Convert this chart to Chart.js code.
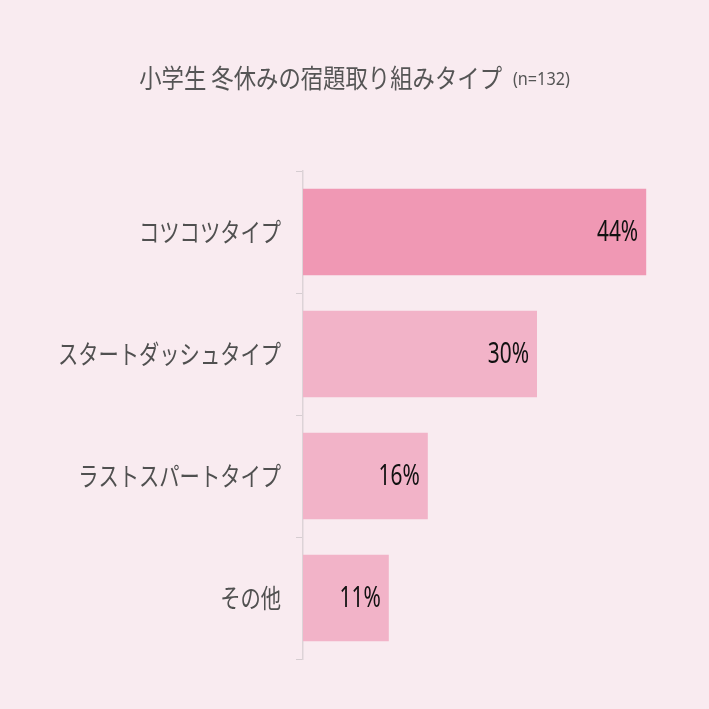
<!DOCTYPE html>
<html>
<head>
<meta charset="utf-8">
<script src="https://cdn.jsdelivr.net/npm/chart.js@4"></script>
<style>
  html, body { margin: 0; padding: 0; background: #f9ebf0; }
  #wrap { width: 709px; height: 709px; }
</style>
</head>
<body>
<div id="wrap"><canvas id="typeChart"></canvas></div>
<script>
const categories = ["コツコツタイプ", "スタートダッシュタイプ", "ラストスパートタイプ", "その他"];
const shares = [44, 30, 16, 11];
const barColors = ["#f098b4", "#f2b3c8", "#f2b3c8", "#f2b3c8"];

const titleMain = "小学生 冬休みの宿題取り組みタイプ";
const titleNote = "(n=132)";

const jp = "'Noto Sans CJK JP', 'Noto Sans', sans-serif";
const num = "'Noto Sans', 'DejaVu Sans', sans-serif";

// the original uses a tall, narrow face; squeeze text sideways to get close
function narrowText(ctx, text, x, y, sx) {
  ctx.save();
  ctx.translate(x, y);
  ctx.scale(sx, 1);
  ctx.fillText(text, 0, 0);
  ctx.restore();
}

const titlePlugin = {
  id: "titlePlugin",
  afterDraw(chart) {
    const ctx = chart.ctx;
    ctx.save();
    ctx.fillStyle = "#555";
    ctx.textBaseline = "middle";
    ctx.textAlign = "left";
    ctx.font = "26px " + jp;
    const w1 = ctx.measureText(titleMain).width * 0.86;
    ctx.font = "18px " + num;
    const w2 = ctx.measureText(titleNote).width * 0.9;
    const x0 = (709 - (w1 + 11 + w2)) / 2;
    ctx.font = "26px " + jp;
    narrowText(ctx, titleMain, x0, 78, 0.86);
    ctx.font = "18px " + num;
    narrowText(ctx, titleNote, x0 + w1 + 11, 80, 0.9);
    ctx.restore();
  }
};

// category names left of the axis
const categoryLabels = {
  id: "categoryLabels",
  afterDraw(chart) {
    const ctx = chart.ctx;
    const y = chart.scales.y;
    ctx.save();
    ctx.fillStyle = "#505050";
    ctx.font = "26px " + jp;
    ctx.textAlign = "right";
    ctx.textBaseline = "middle";
    categories.forEach((c, i) => {
      narrowText(ctx, c, 281, y.getPixelForTick(i), 0.78);
    });
    ctx.restore();
  }
};

// percentage labels at the right end inside each bar
const valueLabels = {
  id: "valueLabels",
  afterDatasetsDraw(chart) {
    const ctx = chart.ctx;
    const meta = chart.getDatasetMeta(0);
    ctx.save();
    ctx.fillStyle = "#111";
    ctx.font = "29px " + num;
    ctx.textAlign = "right";
    ctx.textBaseline = "middle";
    meta.data.forEach((bar, i) => {
      narrowText(ctx, shares[i] + "%", bar.x - 8, bar.y + 1, 0.72);
    });
    ctx.restore();
  }
};

new Chart(document.getElementById("typeChart"), {
  type: "bar",
  data: {
    labels: categories,
    datasets: [
      {
        data: shares,
        backgroundColor: barColors,
        borderWidth: 0,
        categoryPercentage: 1,
        barPercentage: 0.71,
      },
    ],
  },
  options: {
    indexAxis: "y",
    responsive: true,
    maintainAspectRatio: false,
    animation: false,
    layout: { padding: { top: 171, bottom: 50, left: 0, right: 16 } },
    scales: {
      x: {
        display: false,
        min: 0,
        max: 50,
      },
      y: {
        afterFit(scale) { scale.width = 303; },
        grid: {
          offset: true,
          drawOnChartArea: false,
          drawTicks: true,
          tickLength: 7,
          color: "#d6cdd1",
        },
        border: { color: "#ddd3d7", width: 1.5 },
        ticks: {
          color: "rgba(0,0,0,0)",
          padding: 14,
          font: { size: 22, family: jp },
        },
      },
    },
    plugins: {
      legend: { display: false },
      tooltip: { enabled: false },
    },
  },
  plugins: [titlePlugin, categoryLabels, valueLabels],
});
</script>
</body>
</html>
